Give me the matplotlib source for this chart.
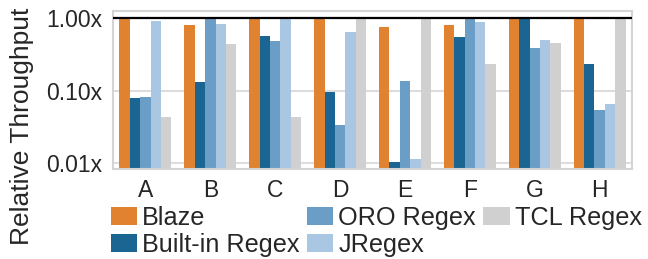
import numpy as np
import matplotlib
matplotlib.use("Agg")
import matplotlib.pyplot as plt

plt.rcParams['font.family'] = ['Liberation Sans', 'DejaVu Sans']

# relative throughput per workload
workloads = ['A', 'B', 'C', 'D', 'E', 'F', 'G', 'H']
series_names = ['Blaze', 'Built-in Regex', 'ORO Regex', 'JRegex', 'TCL Regex']
blaze = [1.0, 0.81, 1.0, 1.0, 0.76, 0.81, 1.0, 1.0]
builtin = [0.079, 0.131, 0.57, 0.095, 0.0102, 0.55, 1.0, 0.233]
oro = [0.081, 1.0, 0.485, 0.033, 0.135, 1.0, 0.388, 0.054]
jregex = [0.92, 0.83, 1.0, 0.645, 0.0113, 0.89, 0.50, 0.065]
tcl = [0.043, 0.445, 0.043, 1.0, 1.0, 0.233, 0.455, 1.0]
colors = ['#e08230', '#1a6591', '#6b9ec6', '#a9c7e2', '#d0d0d0']

all_series = [blaze, builtin, oro, jregex, tcl]

fig = plt.figure(figsize=(6.48, 2.59), dpi=100)
ax = fig.add_axes([0.1744, 0.3463, 0.801, 0.611])

x = np.arange(len(workloads))
w = 0.16
ybot = 0.0081
for k, (vals, name, c) in enumerate(zip(all_series, series_names, colors)):
    vals = np.array(vals)
    ax.bar(x + (k - 2) * w, vals - ybot, width=w, bottom=ybot, color=c,
           label=name, linewidth=0, zorder=2)

ax.set_yscale('log')
ax.set_ylim(ybot, 1.262)
ax.set_xlim(-0.5, 7.5)
ax.axhline(1.0, color='black', lw=1.6, zorder=3)

ax.set_yticks([1.0, 0.1, 0.01])
ax.set_yticklabels(['1.00x', '0.10x', '0.01x'])
ax.yaxis.set_minor_locator(matplotlib.ticker.NullLocator())
ax.set_xticks(x)
ax.set_xticklabels(workloads)
ax.tick_params(axis='both', length=0, labelsize=16.5, colors='#262626')
ax.tick_params(axis='y', pad=7.5)
ax.tick_params(axis='x', pad=7)

ax.grid(axis='y', color='#dddddd', lw=1.5, zorder=0)
ax.set_axisbelow(True)
for s in ax.spines.values():
    s.set_color('#d4d4d4')
    s.set_linewidth(1.5)

ax.set_ylabel('Relative Throughput', fontsize=19, color='#262626')
ax.yaxis.set_label_coords(-0.152, 0.27)

fig.legend(loc='upper left', bbox_to_anchor=(111 / 648, 1 - 206 / 259),
           ncol=3, frameon=False, fontsize=18.2, handlelength=1.03,
           handleheight=0.68, handletextpad=0.2, columnspacing=0.3,
           labelspacing=0.12, borderpad=0, borderaxespad=0,
           labelcolor='#262626')

fig.savefig('out.png', dpi=100)
